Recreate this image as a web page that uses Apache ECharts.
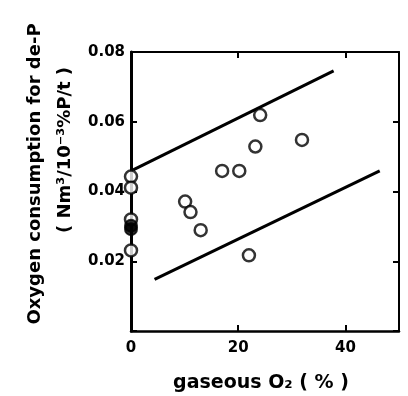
<!DOCTYPE html>
<html>
<head>
<meta charset="utf-8">
<script src="https://cdn.jsdelivr.net/npm/echarts@6/dist/echarts.min.js"></script>
<style>html,body{margin:0;padding:0;background:#fff}#c{width:408px;height:396px}</style>
</head>
<body>
<div id="c"></div>
<script>
// Hollow circles (gaseous O2 %, oxygen consumption)
const hollowX = [0, 0, 0, 0, 10.1, 11.1, 13.0, 17.0, 20.2, 22.0, 23.2, 24.1, 31.9];
const hollowY = [0.0443, 0.0411, 0.0320, 0.0231, 0.0371, 0.0341, 0.0289, 0.0459, 0.0459, 0.0217, 0.0529, 0.0619, 0.0548];
// Filled circles
const filledX = [0, 0];
const filledY = [0.0302, 0.0292];
// Band lines (start, end)
const upperX = [0.4, 37.8];
const upperY = [0.0462, 0.0746];
const lowerX = [4.4, 46.4];
const lowerY = [0.0148, 0.0459];
const xTicks = [0, 20, 40];
const yTicks = [0.02, 0.04, 0.06, 0.08];

const zip = (a, b) => a.map((v, i) => [v, b[i]]);
const chart = echarts.init(document.getElementById('c'), null, {renderer: 'canvas'});
const font = 'DejaVu Sans';
const axisCommon = {
  axisLine: {show: true, onZero: false, lineStyle: {color: '#000', width: 2.5}},
  axisTick: {show: true, inside: true, length: 6, lineStyle: {color: '#000', width: 2}},
  splitLine: {show: false}
};
chart.setOption({
  animation: false,
  backgroundColor: '#fff',
  grid: {left: 131, right: 9, top: 52, bottom: 65},
  xAxis: [
    Object.assign({type: 'value', min: 0, max: 50, interval: 20, position: 'bottom',
      axisLabel: {margin: 10, color: '#000', fontFamily: font, fontWeight: 'bold', fontSize: 15,
        formatter: v => xTicks.includes(v) ? String(v) : ''}}, axisCommon),
    Object.assign({type: 'value', min: 0, max: 50, interval: 20, position: 'top',
      axisLabel: {show: false}}, axisCommon, {axisLine: {show: true, onZero: false, lineStyle: {color: '#000', width: 2}}})
  ],
  yAxis: [
    Object.assign({type: 'value', min: 0, max: 0.08, interval: 0.02, position: 'left',
      axisLabel: {margin: 6, color: '#000', fontFamily: font, fontWeight: 'bold', fontSize: 15,
        formatter: v => yTicks.some(t => Math.abs(t - v) < 1e-9) ? v.toFixed(2) : ''}}, axisCommon,
      {axisLine: {show: true, onZero: false, lineStyle: {color: '#000', width: 3}}}),
    Object.assign({type: 'value', min: 0, max: 0.08, interval: 0.02, position: 'right',
      axisLabel: {show: false}}, axisCommon, {axisLine: {show: true, onZero: false, lineStyle: {color: '#000', width: 2}}})
  ],
  series: [
    {type: 'line', data: zip(upperX, upperY), symbol: 'none', lineStyle: {color: '#000', width: 3}, z: 2},
    {type: 'line', data: zip(lowerX, lowerY), symbol: 'none', lineStyle: {color: '#000', width: 3}, z: 2},
    {type: 'scatter', data: zip(hollowX, hollowY), symbol: 'circle', symbolSize: 12,
      itemStyle: {color: '#fff', borderColor: '#000', borderWidth: 2.5}, z: 3},
    {type: 'scatter', data: zip(filledX, filledY), symbol: 'circle', symbolSize: 12,
      itemStyle: {color: '#000', borderColor: '#000', borderWidth: 2}, z: 4}
  ],
  graphic: [
    {type: 'text', x: 35, y: 174, rotation: Math.PI / 2,
      style: {text: 'Oxygen consumption for de-P', fill: '#000', font: 'bold 18px "DejaVu Sans"',
        align: 'center', verticalAlign: 'middle'}},
    {type: 'text', x: 65, y: 150, rotation: Math.PI / 2,
      style: {text: '( Nm³/10⁻³%P/t )', fill: '#000', font: 'bold 18px "DejaVu Sans"',
        align: 'center', verticalAlign: 'middle'}},
    {type: 'text', x: 261, y: 383,
      style: {text: 'gaseous O₂ ( % )', fill: '#000', font: 'bold 19px "DejaVu Sans"',
        align: 'center', verticalAlign: 'middle'}}
  ]
});
</script>
</body>
</html>
